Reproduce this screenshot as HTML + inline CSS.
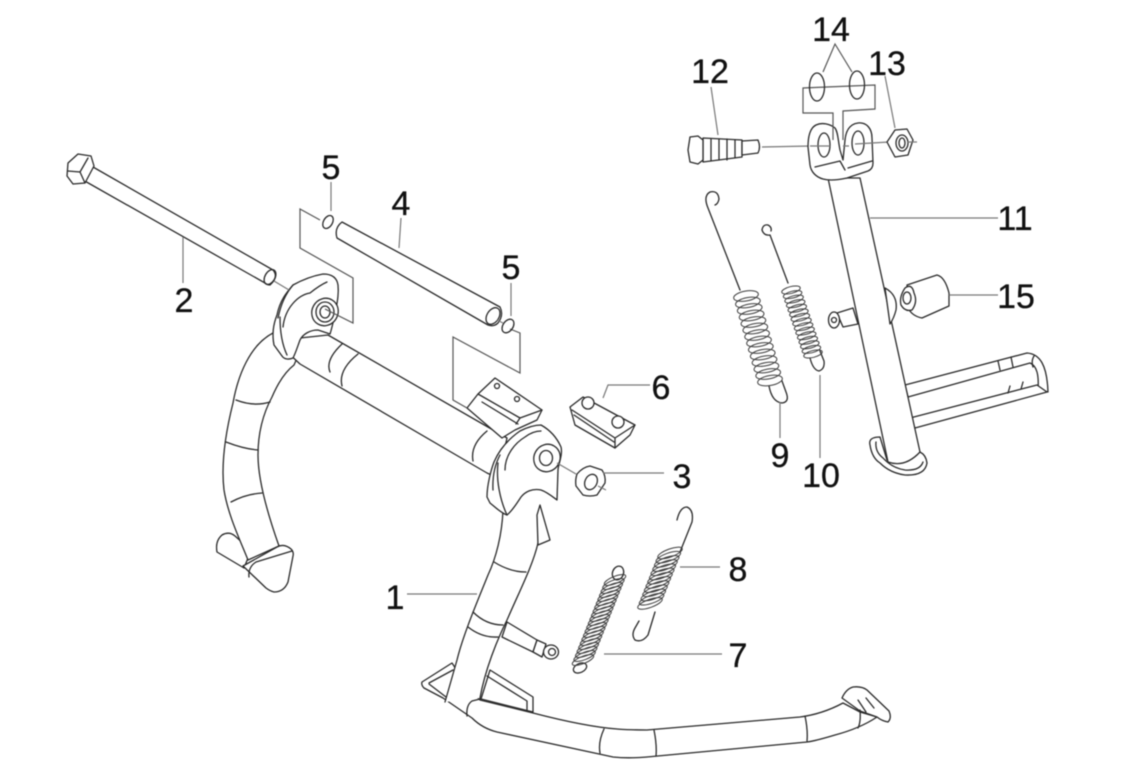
<!DOCTYPE html>
<html><head><meta charset="utf-8"><style>
html,body{margin:0;padding:0;background:#fff;width:1124px;height:768px;overflow:hidden}
svg{display:block;filter:blur(.4px)}
text{font-family:"Liberation Sans",sans-serif;font-size:34px;fill:#111;stroke:#111;stroke-width:.3;text-anchor:middle}
.l{fill:none;stroke:#2a2a2a;stroke-width:1.3;stroke-linejoin:round;stroke-linecap:round}
.f{fill:#fff;stroke:#2a2a2a;stroke-width:1.3;stroke-linejoin:round;stroke-linecap:round}
.w{fill:#fff;stroke:none}
.t{fill:none;stroke:#777;stroke-width:1.2}
.g{fill:none;stroke:#555;stroke-width:1.2}
.k{fill:none;stroke:#3c3c3c;stroke-width:1}
</style></head><body>
<svg width="1124" height="768" viewBox="0 0 1124 768" xmlns="http://www.w3.org/2000/svg">
<defs>
<ellipse id="e7" rx="11.5" ry="3.6" transform="rotate(-22)" class="k"/>
<ellipse id="e8" rx="13" ry="4" transform="rotate(-20)" class="k"/>
<ellipse id="e9" rx="12.5" ry="5" transform="rotate(-10)" class="k"/>
<ellipse id="e10" rx="9.5" ry="3.4" transform="rotate(-14)" class="k"/>
</defs>

<!-- center stand: left leg -->
<path class="f" d="M244,568L217,552Q215,541 222,535Q229,531 235,536L244,544L248,558Z"/>
<path class="f" d="M273,333C250,345 238,375 233,403C225,435 221,465 224,490C228,515 240,540 248,560L279,546C268,515 258,480 258,455C258,430 265,410 272,397C278,383 285,372 294,365L305,340Z"/>
<path class="l" d="M236,400Q254,407 270,402M226,442Q244,449 258,450M231,502Q246,494 262,493"/>
<path class="f" d="M243,566L277,547Q284,543 291,549Q294,552 293,556L288,582Q284,592 274,592Q270,591 266,588Z"/>
<path class="l" d="M249,577Q248,567 256,562L292,551"/>

<!-- base -->
<path class="f" d="M422,682L452,663L470,690L480,700L533,713C560,720 590,727 617,729C630,730 640,730 647,730L800,717C815,715 830,710 843,703L860,712L877,717C865,725 850,731 835,735C825,738 815,741 807,742L647,757C635,758 622,758 613,757L497,732C485,729 478,724 472,718L443,698L424,688Q421,685 422,682Z"/>
<path class="l" d="M429,683L453,670M429,684L446,697"/>
<path class="l" d="M467,716Q466,705 472,701L480,699"/>
<path class="f" d="M490,670L533,697V712L481,699Z"/>
<path class="l" d="M487,676L527,701V711"/>
<path class="l" d="M604,729Q598,742 600,753M654,730Q657,745 656,756M805,716Q808,730 807,741"/>
<path class="f" d="M842,698Q846,689 853,687Q862,686 867,690L889,711Q892,718 888,722Q882,721 877,717L860,711Z"/>
<path class="l" d="M858,700L866,712M866,698L874,708M860,710Q861,722 858,728"/>

<!-- right leg -->
<path class="w" d="M503,510C502,535 496,558 488,575C478,600 463,635 457,660L445,702L480,698C485,670 497,640 507,620C520,590 533,565 540,535L545,498L515,500Z"/>
<path class="l" d="M503,510C502,535 496,558 488,575C478,600 463,635 457,660L445,702M480,698C485,670 497,640 507,620C520,590 533,565 538,543"/>
<path class="l" d="M494,562Q510,572 526,572M473,612Q486,625 503,625M468,627Q482,638 498,637"/>
<path class="f" d="M540,505L550,540L538,545L537,515Z"/>

<!-- center tube -->
<path class="f" d="M300,338L328,335L507,438L498,478L487,473L300,364L285,350Z"/>
<path class="l" d="M342,344Q325,360 330,372M358,354Q338,370 342,386M487,431Q470,445 473,461"/>

<!-- top mount -->
<path class="f" d="M467,408L478,394L495,378L542,410L537,420L515,430L502,438Z"/>
<path class="l" d="M478,394L520,418L542,410M482,402L518,424M520,418L516,424"/>
<circle class="l" cx="497" cy="386" r="2.5"/><circle class="l" cx="517" cy="399" r="2.5"/>

<!-- left bracket -->
<path class="f" d="M274,345C272,335 273,325 277,315C280,300 287,292 293,285C302,280 312,276 323,274C332,274 337,278 338,285C339,295 337,303 335,315C333,322 332,328 330,334L318,330C310,330 303,334 300,340C297,348 296,352 293,358C288,360 284,359 282,356Z"/>
<path class="l" d="M280,317Q280,340 287,355M283,327C285,308 298,295 310,293Q320,285 327,282M293,285Q282,298 278,318"/>
<ellipse class="f" cx="325" cy="312" rx="13" ry="14" transform="rotate(30 325 312)"/>
<ellipse class="l" cx="325" cy="312" rx="9" ry="10"/>
<ellipse class="l" cx="325" cy="312" rx="5" ry="6"/>

<!-- right bracket -->
<path class="f" d="M487,497C487,485 491,470 494,462C500,448 510,438 520,431C528,427 535,425 541,425C550,430 557,438 561,447C563,455 558,465 558,470L557,500C553,497 547,492 541,490C532,488 525,492 521,497C517,503 513,510 507,515C501,513 495,507 490,503Z"/>
<path class="l" d="M498,463C496,480 500,500 507,515M505,470C505,455 515,443 525,437Q533,431 541,431M493,490Q492,470 500,455"/>
<ellipse class="f" cx="547" cy="458" rx="13" ry="14" transform="rotate(30 547 458)"/>
<ellipse class="l" cx="546" cy="458" rx="6.5" ry="7.5"/>

<!-- pin under stand -->
<path class="f" d="M507,622L537,640L533,652L502,637Z"/>
<path class="f" d="M537,640L546,644L542,657L533,652Z"/>
<ellipse class="f" cx="551" cy="652" rx="7.5" ry="7"/>
<circle class="l" cx="552" cy="652" r="3.5"/>

<!-- spring 7 -->
<ellipse class="l" cx="618" cy="573" rx="5.5" ry="7" transform="rotate(20 618 573)"/>
<ellipse class="l" cx="580" cy="668" rx="7" ry="4.5" transform="rotate(-25 580 668)"/>
<g><use href="#e7" x="615" y="580"/><use href="#e7" x="613.4" y="584"/><use href="#e7" x="611.8" y="588"/><use href="#e7" x="610.2" y="592"/><use href="#e7" x="608.6" y="596"/><use href="#e7" x="607" y="600"/><use href="#e7" x="605.4" y="604"/><use href="#e7" x="603.8" y="608"/><use href="#e7" x="602.2" y="612"/><use href="#e7" x="600.6" y="616"/><use href="#e7" x="599" y="620"/><use href="#e7" x="597.4" y="624"/><use href="#e7" x="595.8" y="628"/><use href="#e7" x="594.2" y="632"/><use href="#e7" x="592.6" y="636"/><use href="#e7" x="591" y="640"/><use href="#e7" x="589.4" y="644"/><use href="#e7" x="587.8" y="648"/><use href="#e7" x="586.2" y="652"/><use href="#e7" x="584.6" y="656"/><use href="#e7" x="583" y="660"/></g>

<!-- spring 8 -->
<path class="l" d="M677,520Q680,507 687,507Q694,510 692,522L680,552M655,612L648,635Q642,643 635,640Q631,635 635,628L639,621"/>
<g><use href="#e8" x="670" y="553"/><use href="#e8" x="668.3" y="557.2"/><use href="#e8" x="666.7" y="561.4"/><use href="#e8" x="665" y="565.6"/><use href="#e8" x="663.3" y="569.8"/><use href="#e8" x="661.7" y="574"/><use href="#e8" x="660" y="578.2"/><use href="#e8" x="658.3" y="582.4"/><use href="#e8" x="656.6" y="586.6"/><use href="#e8" x="655" y="590.8"/><use href="#e8" x="653.3" y="595"/><use href="#e8" x="651.6" y="599.2"/><use href="#e8" x="650" y="603.4"/></g>

<!-- bolt 2 -->
<path class="f" d="M93,167L273,270Q279,277 270,285Q267,285 265,283L83,180Z"/>
<ellipse class="l" cx="270" cy="277" rx="5" ry="8" transform="rotate(30 270 277)"/>
<path class="f" d="M68,163L78,154L91,156L94,166L85,183L73,184L67,176Z"/>
<path class="l" d="M68,171L80,172L88,158M80,172L85,183"/>
<path class="t" d="M274,281L289,290"/>

<!-- tube 4 -->
<path class="f" d="M342,222L500,307Q504,315 498,323Q494,327 488,325L337,238Q334,228 342,222Z"/>
<ellipse class="l" cx="493" cy="316" rx="6" ry="9" transform="rotate(32 493 316)"/>

<!-- thin brackets -->
<path class="g" d="M320,220L300,209V248L353,278V323L325,309"/>
<path class="g" d="M510,329L520,333V373L453,337V400L467,408"/>
<path class="t" d="M497,320L503,323"/>
<ellipse class="l" cx="328" cy="222" rx="4.5" ry="7" transform="rotate(30 328 222)"/>
<ellipse class="l" cx="508" cy="326" rx="5" ry="7.5" transform="rotate(35 508 326)"/>

<!-- block 6 -->
<path class="f" d="M570,407L583,397L635,425L630,435L615,448L575,425Z"/>
<path class="l" d="M572,410L615,438L635,425M574,415L614,442M615,438V448"/>
<ellipse class="f" cx="588" cy="403" rx="6" ry="6"/><ellipse class="f" cx="618" cy="422" rx="6" ry="6"/>

<!-- nut 3 -->
<path class="f" d="M577,474Q583,467 590,466L602,470Q606,476 605,483L597,495Q590,497 583,495L576,486Q575,480 577,474Z"/>
<ellipse class="l" cx="591" cy="482" rx="6" ry="8" transform="rotate(25 591 482)"/>
<path class="t" d="M557,463L576,474M598,486L606,490"/>

<!-- bolt 12 -->
<path class="f" d="M703,138L742,140V157L703,162Z"/>
<path class="f" d="M690,137L698,136L703,140V160L698,164L690,162L688,150Z"/>
<path class="l" d="M711,139V161M719,139V160M727,139V160M735,140V158"/>
<path class="f" d="M742,141L758,140Q761,147 758,153L742,155Z"/>
<path class="t" d="M762,147L810,146"/>

<!-- kick pedal -->
<path class="f" d="M905,385L1027,353C1040,354 1047,365 1048,392L1038,390C1039,375 1037,366 1030,363L908,397Z"/>
<path class="f" d="M910,418L1037,385L1047,392L915,428Z"/>
<path class="l" d="M998,361L1000,370M1011,357L1013,367M1008,393L1010,386M1021,389L1023,382M1034,356Q1031,361 1033,367"/>

<!-- leg 11 -->
<path class="f" d="M880,437Q868,437 870,445Q872,458 880,463Q890,473 905,475Q925,476 927,463Q926,455 920,452L887,460Z"/>
<path class="l" d="M876,442Q875,452 883,458Q892,468 905,470Q920,471 923,462"/>
<path class="f" d="M828,178L860,178L920,452Q905,468 888,462Z"/>

<!-- washer & pin -->
<path class="f" d="M885,288Q898,295 896,310Q894,318 890,324Z"/>
<path class="f" d="M837,313L853,308L858,324L843,327Z"/>
<ellipse class="f" cx="834" cy="320" rx="5.5" ry="8"/>
<circle class="l" cx="834" cy="320" r="2.5"/>

<!-- bushing 15 -->
<path class="f" d="M907,285L937,275Q945,277 949,293V306L922,318Q912,316 908,308Z"/>
<path class="f" d="M905,288Q912,283 914,293Q918,302 912,310Q905,312 901,305Q899,297 905,288Z"/>
<ellipse class="l" cx="907" cy="298" rx="4" ry="6"/>

<!-- spring 9 -->
<path class="l" d="M740,290L708,208Q703,196 710,192Q718,190 719,199Q718,204 715,205"/>
<path class="l" d="M769,386Q772,402 782,403Q790,402 786,392L782,381"/>
<g><use href="#e9" x="746" y="296"/><use href="#e9" x="747.9" y="302.5"/><use href="#e9" x="749.7" y="309"/><use href="#e9" x="751.6" y="315.5"/><use href="#e9" x="753.4" y="322"/><use href="#e9" x="755.3" y="328.5"/><use href="#e9" x="757.1" y="335"/><use href="#e9" x="759" y="341.5"/><use href="#e9" x="760.8" y="348"/><use href="#e9" x="762.7" y="354.5"/><use href="#e9" x="764.5" y="361"/><use href="#e9" x="766.4" y="367.5"/><use href="#e9" x="768.2" y="374"/><use href="#e9" x="770" y="380.5"/></g>

<!-- spring 10 -->
<path class="l" d="M788,283L770,235Q764,236 762,230Q763,224 768,225Q772,227 771,231"/>
<path class="l" d="M810,358Q813,370 819,371Q825,369 824,361L820,351"/>
<g><use href="#e10" x="791" y="290"/><use href="#e10" x="792.6" y="294.6"/><use href="#e10" x="794.1" y="299.1"/><use href="#e10" x="795.7" y="303.7"/><use href="#e10" x="797.3" y="308.3"/><use href="#e10" x="798.9" y="312.9"/><use href="#e10" x="800.4" y="317.4"/><use href="#e10" x="802" y="322"/><use href="#e10" x="803.6" y="326.6"/><use href="#e10" x="805.1" y="331.1"/><use href="#e10" x="806.7" y="335.7"/><use href="#e10" x="808.3" y="340.3"/><use href="#e10" x="809.8" y="344.8"/><use href="#e10" x="811.4" y="349.4"/><use href="#e10" x="813" y="354"/></g>

<!-- clevis -->
<path class="f" d="M808,147C808,137 810,128 816,125C822,122 830,124 835,128C838,132 838,140 840,150L843,160L845,140C846,130 850,124 858,123C866,122 872,128 872,138L873,163Q873,169 868,171L847,178C838,180 830,181 823,179C816,177 811,172 810,165Z"/>
<path class="l" d="M815,167L840,161L845,170M848,168L872,161"/>
<ellipse class="l" cx="824" cy="145" rx="6" ry="12"/>
<ellipse class="l" cx="858" cy="143" rx="6" ry="12"/>
<path class="t" d="M843,146H849M810,146H830M855,144L889,142"/>

<!-- bracket 14 -->
<path class="g" d="M833,140L833,113L803,113V88L875,85V109L843,111V140"/>
<ellipse class="l" cx="817" cy="87" rx="7.5" ry="14"/>
<ellipse class="l" cx="857" cy="85" rx="7.5" ry="14"/>
<path class="g" d="M823,72L835,44L852,72"/>

<!-- nut 13 -->
<path class="f" d="M887,142L895,130L907,129L913,140L908,155L895,157Z"/>
<ellipse class="l" cx="902" cy="143" rx="6" ry="8"/>
<ellipse class="l" cx="902" cy="143" rx="3" ry="5"/>
<path class="t" d="M907,142L917,142"/>

<!-- leaders -->
<path class="t" d="M331,182V211M401,218L399,248M183,237V283M511,283V316M650,385H608L603,398M664,473H603M680,567H720M407,594H477M604,654H722M780,402V438M820,375V458M870,218H998M949,295H998M711,87L718,135M885,76L895,128"/>

<!-- labels -->
<text x="831" y="41">14</text>
<text x="887" y="75">13</text>
<text x="710" y="83">12</text>
<text x="331" y="179">5</text>
<text x="401" y="215">4</text>
<text x="511" y="279">5</text>
<text x="184" y="312">2</text>
<text x="661" y="399">6</text>
<text x="682" y="488">3</text>
<text x="738" y="581">8</text>
<text x="395" y="609">1</text>
<text x="738" y="667">7</text>
<text x="780" y="467">9</text>
<text x="821" y="487">10</text>
<text x="1015" y="230">11</text>
<text x="1016" y="308">15</text>
</svg>
</body></html>
